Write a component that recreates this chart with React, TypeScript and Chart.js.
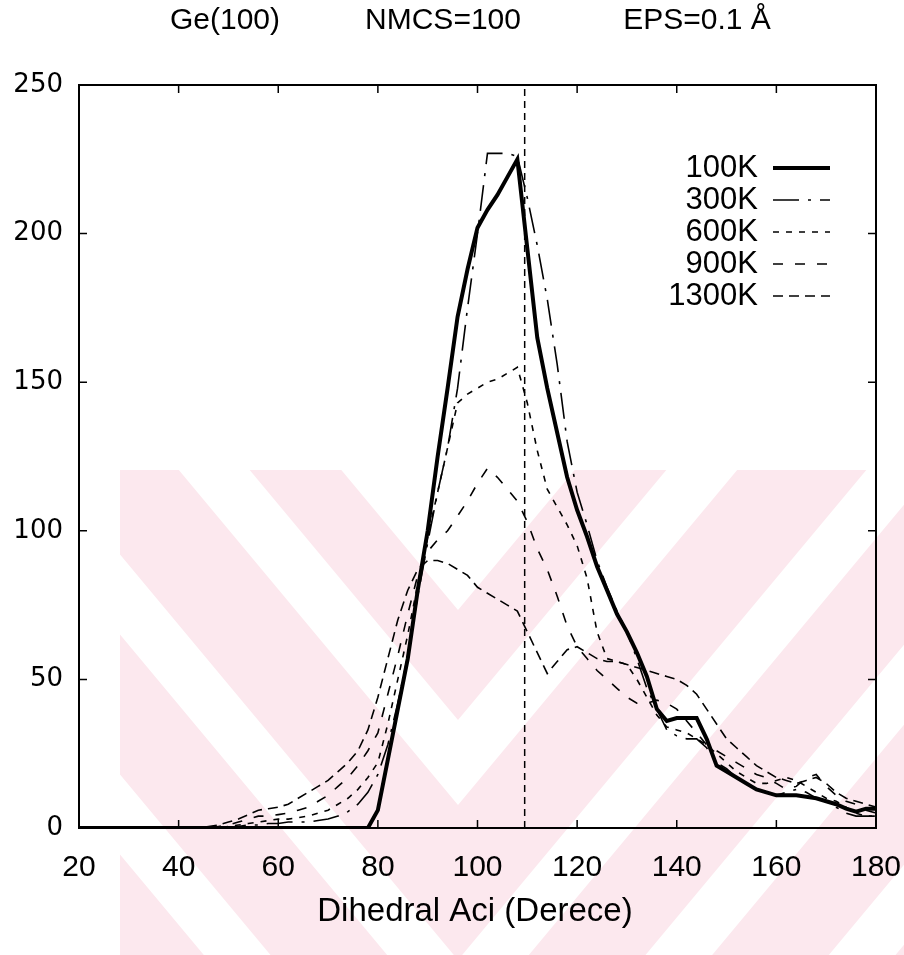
import React, { useEffect, useRef } from "react";
import { Chart, registerables } from "chart.js";

Chart.register(...registerables);

// Dihedral angle bins (degrees)
const angles = [
  20, 22, 24, 26, 28, 30, 32, 34, 36, 38, 40, 42, 44, 46, 48, 50, 52, 54, 56, 58,
  60, 62, 64, 66, 68, 70, 72, 74, 76, 78, 80, 82, 84, 86, 88, 90, 92, 94, 96, 98,
  100, 102, 104, 106, 108, 110, 112, 114, 116, 118, 120, 122, 124, 126, 128, 130,
  132, 134, 136, 138, 140, 142, 144, 146, 148, 150, 152, 154, 156, 158, 160, 162,
  164, 166, 168, 170, 172, 174, 176, 178, 180,
];

const counts100K = [
  0, 0, 0, 0, 0, 0, 0, 0, 0, 0, 0, 0, 0, 0, 0, 0, 0, 0, 0, 0,
  0, 0, 0, 0, 0, 0, 0, 0, 0, 0, 6, 23, 40, 57, 80, 100, 125, 148, 172, 188,
  202, 208, 213, 219, 225, 195, 165, 148, 133, 118, 107, 98, 88, 80, 72, 66,
  59, 51, 40, 36, 37, 37, 37, 30, 21, 19, 17, 15, 13, 12, 11, 11,
  11, 10.5, 10, 9, 8, 6.5, 5.5, 6.5, 6.5,
];

const counts300K = [
  0, 0, 0, 0, 0, 0, 0, 0, 0, 0, 0, 0, 0, 0, 0, 0, 0.5, 1, 1, 1.5,
  1.5, 2, 2, 2, 2.5, 3, 4, 5.5, 8, 12, 18, 28, 42, 58, 78, 96, 113, 128, 148, 175,
  200, 227, 227, 227, 226, 212, 196, 178, 156, 130, 113, 102, 90, 81, 73, 66,
  57, 47, 40, 33, 31, 30, 30, 27, 22, 20, 17, 15, 13, 12, 11, 12,
  13, 12, 10, 9, 7, 5, 4, 4, 4,
];

const counts600K = [
  0, 0, 0, 0, 0, 0, 0, 0, 0, 0, 0, 0, 0, 0, 0, 0.5, 1, 1.5, 2, 2.5,
  3, 3, 3.5, 4, 5, 6, 8, 10, 13, 17, 22, 35, 50, 65, 82, 98, 113, 128, 143, 146,
  148, 150, 151, 153, 155, 143, 127, 114, 108, 102, 95, 84, 66, 57, 56, 55,
  50, 44, 38, 34, 33, 32, 30, 28, 25, 22, 19, 17, 15, 15, 16, 17,
  16, 14, 12, 10, 9, 7, 5, 4, 4,
];

const counts900K = [
  0, 0, 0, 0, 0, 0, 0, 0, 0, 0, 0, 0, 0, 0, 0.5, 1, 2, 3, 4, 4,
  4.5, 5, 6, 7, 9, 11, 14, 17, 21, 26, 32, 45, 58, 72, 85, 93, 97, 100, 105, 110,
  116, 121, 118, 114, 110, 103, 94, 87, 78, 68, 61, 57, 53, 50, 47, 44,
  42, 42, 43, 42, 40, 36, 32, 28, 26, 24, 22, 20, 18, 17, 15, 13,
  14, 17, 18, 14, 11, 9, 8, 6, 5,
];

const counts1300K = [
  0, 0, 0, 0, 0, 0, 0, 0, 0, 0, 0, 0, 0, 0.5, 1, 2, 3, 4.5, 6, 6.5,
  7, 8, 10, 12, 14, 16, 19, 22, 26, 33, 44, 57, 70, 80, 87, 90, 90, 89, 87, 85,
  81, 79, 77, 75, 73, 66, 59, 52, 56, 60, 61, 59, 57, 56, 56, 55,
  54, 53, 52, 51, 50, 48, 45, 40, 35, 30, 27, 24, 21, 19, 17, 16,
  15, 16, 17, 15, 12, 10, 9, 8, 7,
];

const seriesLabels = ["100K", "300K", "600K", "900K", "1300K"];
const seriesCounts = [counts100K, counts300K, counts600K, counts900K, counts1300K];
const seriesDashes = [[], [26, 9, 3, 9], [6, 7], [10, 12], [10, 6]];
const seriesWidths = [4, 1.6, 1.6, 1.6, 1.6];

const tetrahedralAngle = 109.47;
const xTicks = [20, 40, 60, 80, 100, 120, 140, 160, 180];
const yTicks = [0, 50, 100, 150, 200, 250];

const titleParts = ["Ge(100)", "NMCS=100", "EPS=0.1 Å"];
const xAxisTitle = "Dihedral Aci (Derece)";

const SANS = '"Liberation Sans", Arial, Helvetica, sans-serif';
const ROUND = '"DejaVu Sans", Verdana, sans-serif';

const W = 904;
const H = 955;

// Pale chevron-striped background stamp in the lower half of the page
const stampPlugin = {
  id: "stamp",
  beforeDraw(chart: any) {
    const { ctx } = chart;
    ctx.save();
    ctx.fillStyle = "#fff";
    ctx.fillRect(0, 0, W, H);
    ctx.beginPath();
    ctx.rect(120, 470, W - 120, H - 470);
    ctx.clip();
    ctx.fillStyle = "rgb(252, 232, 238)";
    const apexX = 458;
    const k = 1.2;
    const ext = 800;
    const bands = [
      [610, 720],
      [805, 960],
      [1040, 1180],
      [1260, 1400],
      [1480, 1620],
    ];
    for (const [a, b] of bands) {
      ctx.beginPath();
      ctx.moveTo(apexX - ext, a - k * ext);
      ctx.lineTo(apexX, a);
      ctx.lineTo(apexX + ext, a - k * ext);
      ctx.lineTo(apexX + ext, b - k * ext);
      ctx.lineTo(apexX, b);
      ctx.lineTo(apexX - ext, b - k * ext);
      ctx.closePath();
      ctx.fill();
    }
    ctx.restore();
  },
};

// Frame with inward ticks, title, axis title and legend
const decorPlugin = {
  id: "decor",
  afterDraw(chart: any) {
    const { ctx, chartArea } = chart;
    const { left, right, top, bottom } = chartArea;
    const xs = chart.scales.x;
    const ys = chart.scales.y;
    ctx.save();

    ctx.strokeStyle = "#000";
    ctx.lineWidth = 2;
    ctx.setLineDash([]);
    ctx.strokeRect(left, top, right - left, bottom - top);

    ctx.lineWidth = 1.5;
    const tl = 8;
    ctx.beginPath();
    for (const t of xTicks) {
      const px = xs.getPixelForValue(t);
      ctx.moveTo(px, bottom);
      ctx.lineTo(px, bottom - tl);
      ctx.moveTo(px, top);
      ctx.lineTo(px, top + tl);
    }
    for (const t of yTicks) {
      const py = ys.getPixelForValue(t);
      ctx.moveTo(left, py);
      ctx.lineTo(left + tl, py);
      ctx.moveTo(right, py);
      ctx.lineTo(right - tl, py);
    }
    ctx.stroke();

    ctx.fillStyle = "#000";
    ctx.font = `30px ${SANS}`;
    ctx.textAlign = "center";
    ctx.textBaseline = "middle";
    const titleCenters = [225, 443, 697];
    titleParts.forEach((s, i) => ctx.fillText(s, titleCenters[i], 21));

    ctx.font = `33px ${SANS}`;
    ctx.fillText(xAxisTitle, 475, 912);

    // legend: label on the left, line sample on the right
    const rowTop = 168;
    const rowGap = 32;
    ctx.textAlign = "right";
    chart.data.datasets.forEach((ds: any, i: number) => {
      if (ds.hideInLegend) return;
      const y = rowTop + i * rowGap;
      ctx.fillStyle = "#000";
      ctx.font = `31px ${SANS}`;
      ctx.fillText(ds.label, 758, y);
      ctx.strokeStyle = ds.borderColor;
      ctx.lineWidth = ds.borderWidth;
      ctx.setLineDash(ds.borderDash || []);
      ctx.beginPath();
      ctx.moveTo(773, y);
      ctx.lineTo(830, y);
      ctx.stroke();
    });
    ctx.restore();
  },
};

export default function App() {
  const canvasRef = useRef<HTMLCanvasElement | null>(null);

  useEffect(() => {
    document.body.style.margin = "0";
    const canvas = canvasRef.current;
    if (!canvas) return;

    const datasets: any[] = seriesLabels.map((label, i) => ({
      label,
      data: angles.map((a, j) => ({ x: a, y: seriesCounts[i][j] })),
      borderColor: "#000",
      backgroundColor: "#000",
      borderWidth: seriesWidths[i],
      borderDash: seriesDashes[i],
      pointRadius: 0,
      tension: 0,
      fill: false,
    }));
    datasets.push({
      label: "tetrahedral",
      hideInLegend: true,
      data: [
        { x: tetrahedralAngle, y: 0 },
        { x: tetrahedralAngle, y: 250 },
      ],
      borderColor: "#000",
      borderWidth: 1.5,
      borderDash: [7, 5],
      pointRadius: 0,
      fill: false,
    });

    const chart = new Chart(canvas, {
      type: "line",
      data: { datasets },
      options: {
        responsive: false,
        animation: false,
        devicePixelRatio: 1,
        layout: { padding: { left: 0, top: 85, right: 28, bottom: 0 } },
        plugins: {
          legend: { display: false },
          tooltip: { enabled: false },
          title: { display: false },
        },
        scales: {
          x: {
            type: "linear",
            min: 20,
            max: 180,
            grid: { display: false },
            border: { display: false },
            ticks: {
              stepSize: 20,
              color: "#000",
              padding: 14,
              font: { family: SANS, size: 30 },
              maxRotation: 0,
            },
            afterFit: (s: any) => {
              s.height = 127;
              s.paddingLeft = 0;
              s.paddingRight = 0;
            },
          },
          y: {
            min: 0,
            max: 250,
            grid: { display: false },
            border: { display: false },
            ticks: {
              stepSize: 50,
              color: "#000",
              padding: 8,
              font: { family: ROUND, size: 26 },
            },
            afterFit: (s: any) => {
              s.width = 79;
            },
          },
        },
      },
      plugins: [stampPlugin, decorPlugin],
    });

    return () => chart.destroy();
  }, []);

  return (
    <div style={{ width: W, height: H, background: "#fff" }}>
      <canvas ref={canvasRef} width={W} height={H} />
    </div>
  );
}
